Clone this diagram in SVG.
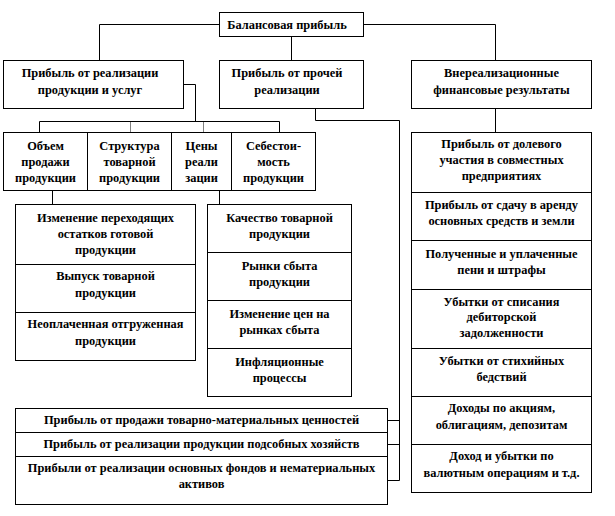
<svg xmlns="http://www.w3.org/2000/svg" width="615" height="516" viewBox="0 0 615 516">
<style>
rect{fill:#fff;stroke:#000;stroke-width:1}
text{font-family:"Liberation Serif","Times New Roman",serif;font-size:12.4px;font-weight:bold;fill:#000;text-anchor:middle}
.c{fill:none;stroke:#000;stroke-width:1}
.d{fill:none;stroke:#000;stroke-width:1;stroke-dasharray:1,1}
</style>
<rect x="0" y="0" width="615" height="516" style="stroke:none"/>
<g id="connectors">
<polyline class="c" points="219.5,24.5 99.5,24.5 99.5,60"/>
<polyline class="c" points="363.5,24.5 495.5,24.5 495.5,60"/>
<line class="c" x1="291.5" y1="36" x2="291.5" y2="60"/>
<polyline class="c" points="183.5,84.5 195.5,84.5 195.5,121.5"/>
<polyline class="c" points="39.5,132 39.5,121.5 279.5,121.5 279.5,132"/>
<line class="d" x1="130.5" y1="121.5" x2="130.5" y2="132"/>
<line class="d" x1="203.5" y1="121.5" x2="203.5" y2="132"/>
<polyline class="c" points="315.5,108 315.5,120.5 399.5,120.5 399.5,480.5"/>
<line class="c" x1="495.5" y1="108" x2="495.5" y2="132"/>
<line class="c" x1="52.5" y1="190" x2="52.5" y2="204"/>
<line class="c" x1="219.5" y1="190" x2="219.5" y2="204"/>
<line class="c" x1="387.5" y1="420.5" x2="399.5" y2="420.5"/>
<line class="c" x1="387.5" y1="444.5" x2="399.5" y2="444.5"/>
<line class="c" x1="387.5" y1="480.5" x2="399.5" y2="480.5"/>
</g>
<g id="balance">
<rect x="219.5" y="12.5" width="144" height="24"/>
<text x="287" y="29">Балансовая прибыль</text>
</g>
<g id="sales">
<rect x="3.5" y="60.5" width="180" height="48"/>
<text x="90" y="77">Прибыль от реализации</text>
<text x="90" y="94">продукции и услуг</text>
</g>
<g id="other-sales">
<rect x="219.5" y="60.5" width="144" height="48"/>
<text x="287" y="77">Прибыль от прочей</text>
<text x="287" y="94">реализации</text>
</g>
<g id="non-operating">
<rect x="411.5" y="60.5" width="180" height="48"/>
<text x="501.5" y="77">Внереализационные</text>
<text x="501.5" y="94">финансовые результаты</text>
</g>
<g id="volume">
<rect x="3.5" y="132.5" width="84" height="58"/>
<text x="45.5" y="150">Объем</text>
<text x="45.5" y="166">продажи</text>
<text x="45.5" y="182">продукции</text>
</g>
<g id="structure">
<rect x="87.5" y="132.5" width="84" height="58"/>
<text x="129.5" y="150">Структура</text>
<text x="129.5" y="166">товарной</text>
<text x="129.5" y="182">продукции</text>
</g>
<g id="prices">
<rect x="171.5" y="132.5" width="60" height="58"/>
<text x="201.5" y="150">Цены</text>
<text x="201.5" y="166">реали</text>
<text x="201.5" y="182">зации</text>
</g>
<g id="cost">
<rect x="231.5" y="132.5" width="84" height="58"/>
<text x="273.5" y="150">Себестои-</text>
<text x="273.5" y="166">мость</text>
<text x="273.5" y="182">продукции</text>
</g>
<g id="stock-change">
<rect x="15.5" y="204.5" width="180" height="60"/>
<text x="105.5" y="222">Изменение переходящих</text>
<text x="105.5" y="238">остатков готовой</text>
<text x="105.5" y="254">продукции</text>
</g>
<g id="output">
<rect x="15.5" y="264.5" width="180" height="48"/>
<text x="105.5" y="280">Выпуск товарной</text>
<text x="105.5" y="297">продукции</text>
</g>
<g id="unpaid">
<rect x="15.5" y="312.5" width="180" height="48"/>
<text x="105.5" y="328">Неоплаченная отгруженная</text>
<text x="105.5" y="345">продукции</text>
</g>
<g id="quality">
<rect x="207.5" y="204.5" width="144" height="48"/>
<text x="279.5" y="222">Качество товарной</text>
<text x="279.5" y="238">продукции</text>
</g>
<g id="markets">
<rect x="207.5" y="252.5" width="144" height="48"/>
<text x="279.5" y="270">Рынки сбыта</text>
<text x="279.5" y="286">продукции</text>
</g>
<g id="price-change">
<rect x="207.5" y="300.5" width="144" height="48"/>
<text x="279.5" y="318">Изменение цен на</text>
<text x="279.5" y="334">рынках сбыта</text>
</g>
<g id="inflation">
<rect x="207.5" y="348.5" width="144" height="48"/>
<text x="279.5" y="366">Инфляционные</text>
<text x="279.5" y="382">процессы</text>
</g>
<g id="equity">
<rect x="411.5" y="132.5" width="180" height="60"/>
<text x="501.5" y="148">Прибыль от долевого</text>
<text x="501.5" y="164">участия в совместных</text>
<text x="501.5" y="180">предприятиях</text>
</g>
<g id="lease">
<rect x="411.5" y="192.5" width="180" height="48"/>
<text x="501.5" y="209">Прибыль от сдачу в аренду</text>
<text x="501.5" y="225">основных средств и земли</text>
</g>
<g id="fines">
<rect x="411.5" y="240.5" width="180" height="49"/>
<text x="501.5" y="258">Полученные и уплаченные</text>
<text x="501.5" y="274">пени и штрафы</text>
</g>
<g id="receivables">
<rect x="411.5" y="289.5" width="180" height="59"/>
<text x="501.5" y="306">Убытки от списания</text>
<text x="501.5" y="321">дебиторской</text>
<text x="501.5" y="337">задолженности</text>
</g>
<g id="disasters">
<rect x="411.5" y="348.5" width="180" height="48"/>
<text x="501.5" y="365">Убытки от стихийных</text>
<text x="501.5" y="381">бедствий</text>
</g>
<g id="securities">
<rect x="411.5" y="396.5" width="180" height="48"/>
<text x="501.5" y="412">Доходы по акциям,</text>
<text x="501.5" y="429">облигациям, депозитам</text>
</g>
<g id="currency">
<rect x="411.5" y="444.5" width="180" height="48"/>
<text x="501.5" y="460">Доход и убытки по</text>
<text x="501.5" y="477">валютным операциям и т.д.</text>
</g>
<g id="inventory">
<rect x="15.5" y="408.5" width="372" height="24"/>
<text x="201.5" y="424">Прибыль от продажи товарно-материальных ценностей</text>
</g>
<g id="subsidiary">
<rect x="15.5" y="432.5" width="372" height="24"/>
<text x="201.5" y="448">Прибыль от реализации продукции подсобных хозяйств</text>
</g>
<g id="fixed-assets">
<rect x="15.5" y="456.5" width="372" height="48"/>
<text x="201.5" y="472">Прибыли от реализации основных фондов и нематериальных</text>
<text x="201.5" y="488">активов</text>
</g>
</svg>
